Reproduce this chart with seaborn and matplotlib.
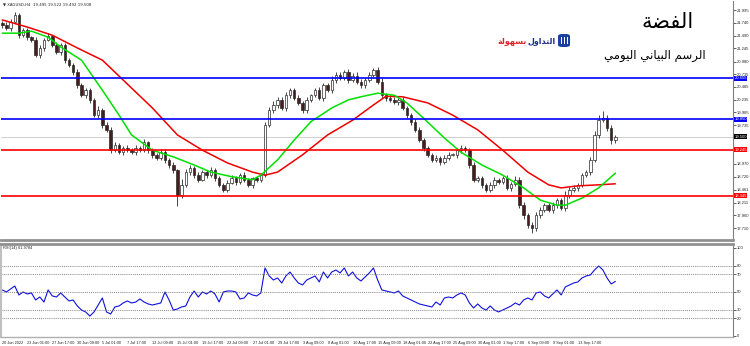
import matplotlib
matplotlib.use("Agg")
import matplotlib.pyplot as plt
import seaborn as sns
import numpy as np
import pandas as pd
from matplotlib.transforms import blended_transform_factory
from matplotlib.patches import FancyBboxPatch, Rectangle

# ---------------- data ----------------
symbol_header = "XAGUSD,H4  19.495 19.522 19.492 19.508"
first_open = 21.74
closes = [21.70, 21.64, 21.76, 21.90, 21.50, 21.60, 21.46, 21.41, 21.11, 21.25,
          21.41, 21.48, 21.31, 21.17, 21.31, 21.01, 20.91, 20.78, 20.52, 20.32,
          20.42, 20.23, 19.93, 20.03, 19.74, 19.64, 19.24, 19.34, 19.21, 19.28,
          19.24, 19.21, 19.28, 19.24, 19.40, 19.24, 19.15, 19.09, 19.21, 19.05,
          18.95, 18.85, 18.36, 18.56, 18.81, 18.89, 18.75, 18.66, 18.81, 18.75,
          18.85, 18.69, 18.56, 18.46, 18.60, 18.69, 18.62, 18.75, 18.66, 18.56,
          18.69, 18.66, 18.75, 19.74, 20.03, 20.13, 20.23, 20.07, 20.32, 20.42,
          20.27, 20.17, 20.03, 20.23, 20.32, 20.42, 20.27, 20.52, 20.42, 20.62,
          20.72, 20.66, 20.78, 20.62, 20.70, 20.58, 20.52, 20.62, 20.72, 20.82,
          20.58, 20.32, 20.27, 20.23, 20.19, 20.23, 20.07, 19.93, 19.80, 19.64,
          19.44, 19.28, 19.15, 19.05, 19.09, 19.01, 19.09, 19.15, 19.15, 19.24,
          19.28, 19.24, 18.95, 18.66, 18.69, 18.56, 18.46, 18.56, 18.66, 18.62,
          18.69, 18.50, 18.58, 18.66, 18.16, 17.97, 17.77, 17.71, 17.97, 18.07,
          18.16, 18.07, 18.16, 18.26, 18.10, 18.36, 18.46, 18.50, 18.56, 18.75,
          18.81, 19.05, 19.54, 19.83, 19.87, 19.68, 19.44, 19.50]
wick_up_cents = [4, 6, 5, 6, 3, 5, 4, 3, 5, 6, 4, 7, 3, 5, 4, 3, 5, 4, 6, 5,
                 4, 5, 3, 8, 4, 5, 6, 7, 4, 5, 6, 4, 7, 5, 6, 3, 5, 4, 6, 5,
                 4, 5, 3, 12, 6, 5, 4, 6, 5, 4, 6, 5, 4, 3, 5, 6, 4, 5, 6, 4,
                 3, 5, 4, 6, 5, 8, 6, 5, 7, 4, 5, 6, 4, 5, 3, 4, 6, 5, 4, 7,
                 5, 6, 4, 5, 6, 7, 5, 4, 6, 4, 5, 8, 4, 6, 5, 4, 6, 3, 4, 5,
                 6, 4, 5, 3, 6, 4, 5, 6, 4, 5, 7, 5, 4, 6, 5, 4, 3, 6, 5, 4,
                 5, 6, 4, 7, 5, 6, 4, 5, 6, 5, 4, 5, 6, 4, 5, 7, 6, 5, 4, 5,
                 5, 6, 8, 10, 14, 6, 5, 4]
wick_dn_cents = [5, 4, 6, 3, 5, 4, 6, 5, 4, 5, 6, 3, 5, 4, 6, 5, 4, 6, 5, 4,
                 5, 6, 4, 5, 7, 5, 6, 4, 5, 6, 4, 5, 6, 4, 3, 5, 6, 5, 4, 6,
                 5, 6, 22, 5, 4, 6, 5, 4, 3, 5, 4, 6, 5, 4, 5, 3, 6, 5, 4, 5,
                 6, 4, 5, 3, 4, 5, 6, 4, 5, 6, 4, 5, 6, 5, 4, 3, 5, 6, 4, 5,
                 6, 4, 5, 6, 3, 4, 5, 6, 4, 5, 4, 5, 6, 4, 5, 6, 4, 5, 6, 5,
                 4, 6, 5, 4, 5, 6, 4, 5, 3, 6, 5, 4, 6, 5, 4, 6, 5, 4, 6, 5,
                 4, 5, 6, 4, 5, 8, 6, 10, 6, 6, 5, 4, 6, 5, 4, 6, 5, 4, 6, 5,
                 4, 5, 5, 6, 4, 6, 8, 5]

ma_red_idx = [0, 6, 12, 18, 24, 30, 36, 42, 48, 54, 60, 63, 66, 72, 78, 84, 89, 92,
              96, 102, 108, 114, 120, 126, 131, 134, 138, 143, 147]
ma_red_val = [21.80, 21.66, 21.50, 21.25, 21.01, 20.54, 20.07, 19.54, 19.24, 18.99,
              18.81, 18.75, 18.81, 19.15, 19.54, 19.83, 20.13, 20.30, 20.29, 20.17,
              19.93, 19.64, 19.24, 18.81, 18.56, 18.50, 18.54, 18.56, 18.58]
ma_green_idx = [0, 4, 7, 11, 14, 19, 24, 28, 31, 36, 41, 46, 50, 55, 60, 62, 66, 70,
                74, 79, 83, 86, 90, 94, 97, 101, 106, 110, 115, 120, 125, 129, 133,
                135, 139, 143, 147]
ma_green_val = [21.54, 21.54, 21.58, 21.46, 21.27, 21.01, 20.42, 19.93, 19.54, 19.24,
                19.11, 18.95, 18.81, 18.72, 18.66, 18.75, 19.05, 19.44, 19.80, 20.07,
                20.23, 20.29, 20.36, 20.32, 20.17, 19.87, 19.48, 19.20, 18.95, 18.75,
                18.50, 18.26, 18.16, 18.16, 18.30, 18.50, 18.79]

rsi_vals = [52.3, 50.0, 53.4, 56.8, 46.6, 50.0, 47.7, 48.9, 40.9, 44.3,
            38.6, 52.3, 45.5, 44.3, 48.9, 44.3, 39.8, 40.9, 34.1, 29.5,
            27.3, 22.7, 27.3, 35.2, 43.2, 27.3, 25.0, 33.0, 34.1, 37.5,
            39.8, 37.5, 38.6, 42.0, 38.6, 36.4, 35.2, 36.4, 37.5, 50.0,
            40.9, 29.5, 30.7, 33.0, 34.1, 44.3, 51.1, 44.3, 50.0, 47.7,
            51.1, 47.7, 38.6, 50.0, 51.1, 51.1, 50.0, 42.0, 43.2, 48.9,
            46.6, 45.5, 48.9, 77.3, 68.2, 63.6, 65.9, 60.2, 68.2, 72.7,
            65.9, 60.2, 58.0, 63.6, 65.9, 68.2, 61.4, 72.7, 65.9, 72.7,
            75.0, 71.6, 77.3, 68.2, 72.7, 65.9, 62.5, 67.0, 71.6, 77.3,
            63.6, 52.3, 51.1, 50.0, 48.9, 51.1, 45.5, 43.2, 40.9, 38.6,
            36.4, 35.2, 34.1, 33.0, 38.6, 35.2, 43.2, 44.3, 43.2, 46.6,
            48.9, 46.6, 37.5, 31.8, 36.4, 31.8, 29.5, 34.1, 29.5, 27.3,
            29.5, 31.8, 34.1, 37.5, 35.2, 40.9, 43.2, 40.9, 48.9, 50.0,
            45.5, 43.2, 47.7, 52.3, 46.6, 55.7, 58.0, 60.2, 61.4, 65.9,
            68.2, 69.3, 75.0, 79.5, 75.0, 65.9, 59.1, 62.0]
rsi_label = "RSI(14) 61.9784"
rsi_levels = [80, 70, 50, 30, 20]

blue_levels = [20.655, 19.850]
red_levels = [19.245, 18.345]

price_ticks = [21.995, 21.740, 21.490, 21.245, 20.980, 20.735, 20.485, 20.235,
               19.985, 19.735, 18.970, 18.720, 18.461, 18.211, 17.960, 17.710]
date_labels = ["20 Jun 2022", "23 Jun 01:00", "27 Jun 17:00", "30 Jun 09:00",
               "5 Jul 01:00", "7 Jul 17:00", "12 Jul 09:00", "15 Jul 01:00",
               "19 Jul 17:00", "22 Jul 09:00", "27 Jul 01:00", "29 Jul 17:00",
               "3 Aug 09:00", "8 Aug 01:00", "10 Aug 17:00", "15 Aug 09:00",
               "18 Aug 01:00", "22 Aug 17:00", "25 Aug 09:00", "30 Aug 01:00",
               "1 Sep 17:00", "6 Sep 09:00", "9 Sep 01:00", "13 Sep 17:00"]
bars_per_label = 6

title_ar = "الفضة"
subtitle_ar = "الرسم البياني اليومي"
logo_blue = "التداول"
logo_red = "بسهولة"

# ---------------- Arabic shaping (presentation forms) ----------------
FORMS = {
    'ا': ('\uFE8D', '\uFE8E', None, None),
    'ب': ('\uFE8F', '\uFE90', '\uFE91', '\uFE92'),
    'ة': ('\uFE93', '\uFE94', None, None),
    'ت': ('\uFE95', '\uFE96', '\uFE97', '\uFE98'),
    'د': ('\uFEA9', '\uFEAA', None, None),
    'ر': ('\uFEAD', '\uFEAE', None, None),
    'س': ('\uFEB1', '\uFEB2', '\uFEB3', '\uFEB4'),
    'ض': ('\uFEBD', '\uFEBE', '\uFEBF', '\uFEC0'),
    'ف': ('\uFED1', '\uFED2', '\uFED3', '\uFED4'),
    'ل': ('\uFEDD', '\uFEDE', '\uFEDF', '\uFEE0'),
    'م': ('\uFEE1', '\uFEE2', '\uFEE3', '\uFEE4'),
    'ن': ('\uFEE5', '\uFEE6', '\uFEE7', '\uFEE8'),
    'ه': ('\uFEE9', '\uFEEA', '\uFEEB', '\uFEEC'),
    'و': ('\uFEED', '\uFEEE', None, None),
    'ي': ('\uFEF1', '\uFEF2', '\uFEF3', '\uFEF4'),
}


def shape(s):
    out = []
    for i, ch in enumerate(s):
        if ch not in FORMS:
            out.append(ch)
            continue
        prev = s[i - 1] if i > 0 else ''
        nxt = s[i + 1] if i + 1 < len(s) else ''
        jp = prev in FORMS and FORMS[prev][2] is not None
        jn = nxt in FORMS and FORMS[ch][2] is not None
        f = FORMS[ch]
        if jp and jn:
            out.append(f[3])
        elif jp:
            out.append(f[1])
        elif jn:
            out.append(f[2])
        else:
            out.append(f[0])
    return ''.join(reversed(out))


# ---------------- build frames ----------------
n = len(closes)
idx = np.arange(n)
opens = [first_open] + closes[:-1]
df = pd.DataFrame({"i": idx, "open": opens, "close": closes})
df["high"] = df[["open", "close"]].max(axis=1) + np.array(wick_up_cents) / 100
df["low"] = df[["open", "close"]].min(axis=1) - np.array(wick_dn_cents) / 100
red_df = pd.DataFrame({"i": ma_red_idx, "v": ma_red_val})
green_df = pd.DataFrame({"i": ma_green_idx, "v": ma_green_val})
rsi_df = pd.DataFrame({"i": idx, "v": rsi_vals})

# ---------------- figure ----------------
sns.set_style("white")
plt.rcParams["font.family"] = ["Liberation Sans", "DejaVu Sans"]
SMALL = 2.8
YLAB = 3.0

W, H = 750, 346
fig = plt.figure(figsize=(W / 100, H / 100), dpi=100)
fig.patch.set_facecolor("white")

ax = fig.add_axes([1 / W, 1 - 240 / H, 732 / W, 239 / H])
rax = fig.add_axes([1 / W, 1 - 337 / H, 732 / W, 93 / H], sharex=ax)

xmin, xmax = -0.3, 175.2
ax.set_xlim(xmin, xmax)
ax.set_ylim(17.476, 22.172)
rax.set_ylim(-1.14, 104.5)

# candles
up = df["close"] >= df["open"]
ax.vlines(df["i"], df["low"], df["high"], color="#2a2a2a", linewidth=0.6, zorder=2)
body_h = (df["close"] - df["open"]).abs().clip(lower=0.008)
body_b = df[["open", "close"]].min(axis=1)
ax.bar(df["i"][up], body_h[up], bottom=body_b[up], width=0.6,
       color="#ffffff", edgecolor="#2a2a2a", linewidth=0.5, zorder=3)
ax.bar(df["i"][~up], body_h[~up], bottom=body_b[~up], width=0.6,
       color="#4a1c1c", edgecolor="#2a2a2a", linewidth=0.5, zorder=3)

# moving averages
sns.lineplot(data=red_df, x="i", y="v", ax=ax, color="#ee0000", linewidth=1.1, zorder=4)
sns.lineplot(data=green_df, x="i", y="v", ax=ax, color="#00e000", linewidth=1.1, zorder=4)

# horizontal levels
tr = blended_transform_factory(ax.transAxes, ax.transData)


def level_tag(val, fc):
    ax.text(1.002, val, f"{val:.3f}", transform=tr, fontsize=YLAB, color="white",
            va="center", ha="left", clip_on=False,
            bbox=dict(boxstyle="square,pad=0.12", fc=fc, ec="none"))


for lv in blue_levels:
    ax.axhline(lv, color="#0000ff", linewidth=1.2, zorder=5)
    level_tag(lv, "#0000ff")
for lv in red_levels:
    ax.axhline(lv, color="#ff0000", linewidth=1.2, zorder=5)
    level_tag(lv, "#ff0000")
last = closes[-1]
ax.axhline(last, color="#c8c8c8", linewidth=0.6, zorder=1)
level_tag(last, "#000000")

# price axis
ax.yaxis.tick_right()
ax.set_yticks(price_ticks)
ax.set_yticklabels([f"{t:.3f}" for t in price_ticks])
ax.tick_params(axis="y", labelsize=YLAB, length=2, width=0.5, pad=1, colors="#222222")
ax.tick_params(axis="x", bottom=False, labelbottom=False)
ax.set_xlabel("")
ax.set_ylabel("")
for s in ["top", "left"]:
    ax.spines[s].set_visible(False)
ax.spines["right"].set_color("#808080")
ax.spines["right"].set_linewidth(0.8)
ax.spines["bottom"].set_color("#909090")
ax.spines["bottom"].set_linewidth(2.0)

ax.text(0.003, 0.995, "\u25BC " + symbol_header, transform=ax.transAxes,
        fontsize=SMALL, va="top", ha="left", color="#222222",
        family=["DejaVu Sans"])

# RSI panel
sns.lineplot(data=rsi_df, x="i", y="v", ax=rax, color="#1010e0", linewidth=0.8)
for lv in rsi_levels:
    rax.axhline(lv, color="#606060", linewidth=0.5, linestyle=(0, (1.5, 1.5)))
rax.yaxis.tick_right()
rax.set_yticks([100] + rsi_levels + [0])
rax.set_yticklabels(["100"] + [str(v) for v in rsi_levels] + ["0"])
rax.tick_params(axis="y", labelsize=YLAB, length=2, width=0.5, pad=1, colors="#222222")
rax.set_xlabel("")
rax.set_ylabel("")
tick_pos = list(range(0, bars_per_label * len(date_labels), bars_per_label))
rax.set_xticks(tick_pos)
rax.set_xticklabels(date_labels)
rax.tick_params(axis="x", labelsize=SMALL, length=2, width=0.5, pad=1.0, colors="#222222")
for lab in rax.get_xticklabels():
    lab.set_ha("left")
rax.spines["top"].set_color("#909090")
rax.spines["top"].set_linewidth(2.0)
rax.spines["left"].set_color("#c0c0c0")
rax.spines["left"].set_linewidth(1.5)
rax.spines["right"].set_color("#808080")
rax.spines["right"].set_linewidth(0.8)
rax.spines["bottom"].set_color("#b0b0b0")
rax.spines["bottom"].set_linewidth(1.0)
rax.text(0.003, 0.975, rsi_label, transform=rax.transAxes, fontsize=SMALL,
         va="top", ha="left", color="#222222")

# Arabic header
fig.text(668 / W, 1 - 22 / H, shape(title_ar), fontsize=15, ha="center", va="center",
         color="black", family=["DejaVu Sans"])
fig.text(655 / W, 1 - 55 / H, shape(subtitle_ar), fontsize=8.5, ha="center", va="center",
         color="black", family=["DejaVu Sans"])
fig.text(556 / W, 1 - 41 / H, shape(logo_blue), fontsize=5.8, ha="right", va="center",
         color="#1a2f8f", fontweight="bold", family=["DejaVu Sans"])
fig.text(527 / W, 1 - 41 / H, shape(logo_red), fontsize=5.8, ha="right", va="center",
         color="#e0202a", fontweight="bold", family=["DejaVu Sans"])
# logo icon
fig.patches.append(FancyBboxPatch((558 / W, 1 - 47 / H), 12 / W, 13 / H,
                                  boxstyle="round,pad=0.0,rounding_size=0.006",
                                  transform=fig.transFigure, fc="#1a3fa0", ec="none"))
for k in range(3):
    fig.patches.append(Rectangle(((560.5 + 3 * k) / W, 1 - 44 / H), 1.3 / W, 7 / H,
                                 transform=fig.transFigure, fc="white", ec="none"))

fig.savefig("out.png", dpi=100, facecolor="white")
